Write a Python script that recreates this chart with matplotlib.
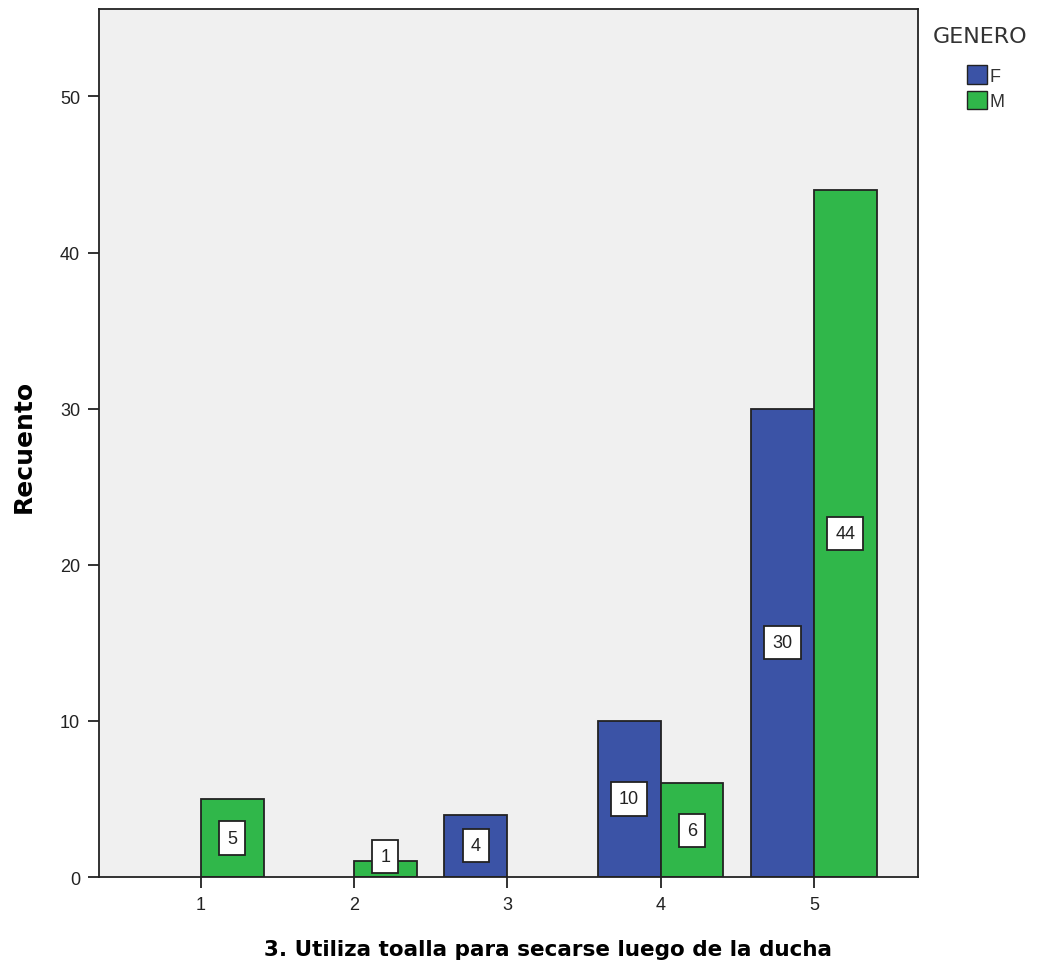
import numpy as np
import matplotlib.pyplot as plt
from matplotlib.patches import Patch

# data
categories = [1, 2, 3, 4, 5]
f_counts = [0, 0, 4, 10, 30]
m_counts = [5, 1, 0, 6, 44]
f_color = "#3b53a6"
m_color = "#30b74a"

plt.rcParams["font.family"] = ["Liberation Sans", "DejaVu Sans"]

fig = plt.figure(figsize=(10.55, 9.70), dpi=100)
ax = fig.add_axes([0.0943, 0.0948, 0.7759, 0.8949])
ax.set_facecolor("#f0f0f0")

x = np.array(categories, dtype=float)
w = 0.41
f_arr = np.array(f_counts)
m_arr = np.array(m_counts)
ax.bar((x - w / 2)[f_arr > 0], f_arr[f_arr > 0], width=w, color=f_color,
       edgecolor="#222222", linewidth=1.3, zorder=2)
ax.bar((x + w / 2)[m_arr > 0], m_arr[m_arr > 0], width=w, color=m_color,
       edgecolor="#222222", linewidth=1.3, zorder=2)

# value boxes
box = dict(boxstyle="square,pad=0.45", facecolor="white", edgecolor="#222222", linewidth=1.3)
for xs, vals in ((x - w / 2, f_counts), (x + w / 2, m_counts)):
    for xi, v in zip(xs, vals):
        if v > 0:
            ax.text(xi, max(v / 2, 1.3), str(v), ha="center", va="center",
                    fontsize=13, color="#222222", bbox=box, zorder=3)

ax.set_xlim(0.34, 5.68)
ax.set_ylim(0, 55.6)
ax.set_xticks(categories)
ax.set_yticks([0, 10, 20, 30, 40, 50])
ax.tick_params(axis="both", labelsize=13, length=8, width=1.3, pad=6,
               color="#222222", labelcolor="#222222")
for s in ax.spines.values():
    s.set_color("#222222")
    s.set_linewidth(1.3)

ax.set_xlabel("3. Utiliza toalla para secarse luego de la ducha", fontsize=15.5,
              fontweight="bold", family="DejaVu Sans")
ax.xaxis.set_label_coords(0.548, -0.071)
ax.set_ylabel("Recuento", fontsize=18, fontweight="bold", family="DejaVu Sans")
ax.yaxis.set_label_coords(-0.078, 0.497)

fig.text(0.884, 0.962, "GENERO", fontsize=16, color="#333333", ha="left", va="center",
         family="DejaVu Sans")
handles = [Patch(facecolor=f_color, edgecolor="#222222", label="F"),
           Patch(facecolor=m_color, edgecolor="#222222", label="M")]
leg = fig.legend(handles=handles, loc="upper left",
                 bbox_to_anchor=(0.908, 0.941), frameon=False, fontsize=13,
                 handlelength=1.1, handleheight=1.2, borderpad=0,
                 handletextpad=0.15, labelspacing=0.35)
for t in leg.get_texts():
    t.set_color("#333333")

plt.savefig("out.png", dpi=100)
